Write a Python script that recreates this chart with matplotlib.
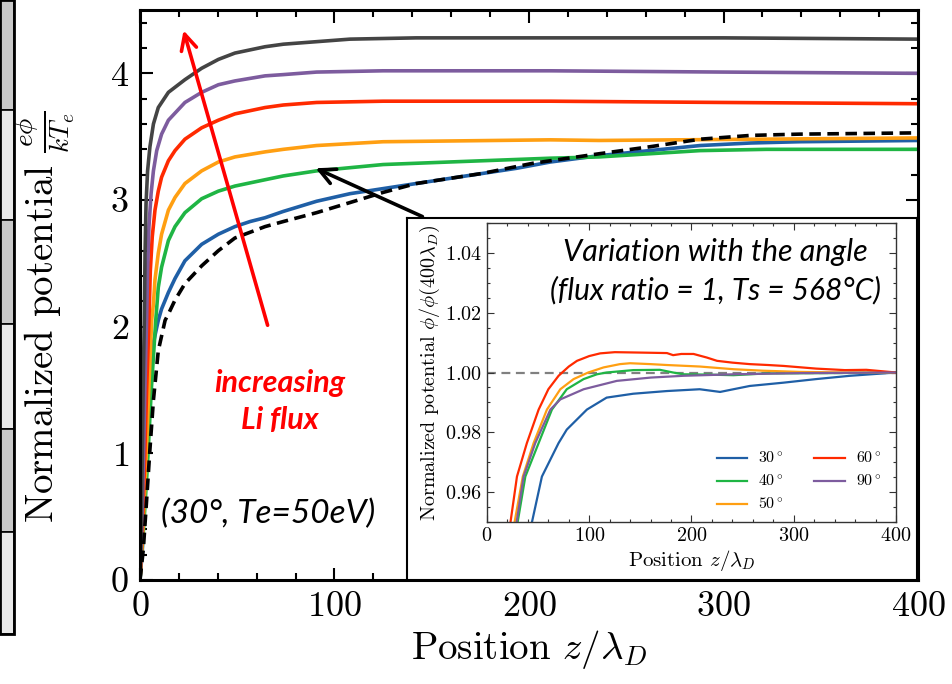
import numpy as np
import matplotlib
matplotlib.use("Agg")
import matplotlib.pyplot as plt
from matplotlib.patches import Rectangle
from matplotlib.ticker import MultipleLocator

plt.rcParams["font.family"] = "serif"
plt.rcParams["font.serif"] = ["cmr10", "DejaVu Serif"]
plt.rcParams["mathtext.fontset"] = "cm"
plt.rcParams["axes.formatter.use_mathtext"] = True
plt.rcParams["axes.unicode_minus"] = False

# main panel: potential vs position, one curve per Li flux
x_dash = [0, 1.7, 3.4, 5.1, 6.9, 9.4, 12.9, 14.6, 18, 23.1, 31.7, 40.3, 48.8, 64.3, 73.7, 90.8,
          108, 125, 142, 176, 202, 236, 262, 288, 314, 339, 400]
y_dash = [0, 0.24, 0.63, 1.03, 1.42, 1.81, 2.05, 2.10, 2.21, 2.34, 2.48, 2.60, 2.70, 2.79, 2.83, 2.90,
          2.98, 3.06, 3.13, 3.21, 3.29, 3.365, 3.42, 3.48, 3.51, 3.52, 3.53]

x_blue = [0, 1.2, 2.2, 3.1, 4.3, 6, 9.4, 11.1, 14.6, 18, 23.1, 31.7, 40.3, 48.8, 56.6, 64.3, 73.7,
          90.8, 108, 125, 159, 193.5, 211, 236, 262, 288, 314, 339, 400]
y_blue = [0, 0.24, 0.63, 1.03, 1.42, 1.81, 2.05, 2.14, 2.27, 2.38, 2.52, 2.65, 2.73, 2.79, 2.83, 2.86, 2.91,
          2.99, 3.05, 3.09, 3.17, 3.25, 3.30, 3.35, 3.39, 3.43, 3.45, 3.46, 3.47]

x_green = [0, 1.8, 3.8, 5.8, 8.1, 9.4, 11.1, 14.6, 18, 23.1, 31.7, 40.3, 48.8, 64.3, 73.7, 90.8,
           125, 159, 211, 236, 288, 322, 400]
y_green = [0, 0.4, 0.9, 1.5, 2.05, 2.31, 2.47, 2.68, 2.79, 2.90, 3.01, 3.07, 3.11, 3.16, 3.19, 3.23,
           3.28, 3.30, 3.33, 3.34, 3.39, 3.40, 3.40]

x_orange = [0, 1.5, 3.0, 4.5, 6.0, 6.9, 7.7, 9.4, 11.1, 14.6, 18, 23.1, 31.7, 40.3, 48.8, 64.3,
            73.7, 90.8, 125, 211, 236, 400]
y_orange = [0, 0.4, 0.9, 1.5, 2.05, 2.18, 2.37, 2.58, 2.73, 2.92, 3.02, 3.13, 3.23, 3.30, 3.34, 3.38,
            3.40, 3.43, 3.46, 3.475, 3.47, 3.49]

x_red = [0, 1.2, 2.3, 3.4, 4.6, 5.3, 6.3, 7.7, 9.4, 11.1, 14.6, 18, 23.1, 31.7, 40.3, 48.8, 64.3,
         73.7, 90.8, 125, 211, 300, 400]
y_red = [0, 0.4, 0.9, 1.5, 2.05, 2.44, 2.71, 2.92, 3.07, 3.18, 3.31, 3.39, 3.48, 3.57, 3.63, 3.68, 3.73,
         3.75, 3.77, 3.78, 3.78, 3.77, 3.76]

x_purple = [0, 0.9, 1.7, 2.5, 3.4, 3.9, 4.6, 5.7, 6.9, 8.6, 11.1, 14.6, 23.1, 31.7, 40.3, 48.8,
            64.3, 73.7, 90.8, 125, 211, 300, 400]
y_purple = [0, 0.4, 0.9, 1.5, 2.05, 2.44, 2.79, 3.05, 3.23, 3.39, 3.52, 3.63, 3.77, 3.85, 3.91, 3.94,
            3.98, 3.99, 4.01, 4.02, 4.02, 4.01, 4.00]

x_gray = [0, 0.6, 1.1, 1.6, 2.2, 2.6, 3.1, 3.9, 5.1, 6.9, 9.4, 14.6, 23.1, 31.7, 40.3, 48.8, 64.3,
          73.7, 90.8, 108, 142, 211, 300, 400]
y_gray = [0, 0.4, 0.9, 1.5, 2.05, 2.58, 2.97, 3.23, 3.42, 3.60, 3.73, 3.85, 3.95, 4.04, 4.11, 4.16, 4.21,
          4.23, 4.25, 4.27, 4.28, 4.28, 4.28, 4.27]

# inset: potential normalised to its value at 400 lambda_D, per angle
angle_labels = ["30$^\\circ$", "40$^\\circ$", "50$^\\circ$", "60$^\\circ$", "90$^\\circ$"]
ix_30 = [44, 53.7, 70, 78, 97.7, 117, 143, 176, 208, 228, 241, 257, 290, 322, 355, 400]
iy_30 = [0.95, 0.9652, 0.9764, 0.9809, 0.9876, 0.9916, 0.9929, 0.9938, 0.9944, 0.9935, 0.9944,
         0.9955, 0.9966, 0.9978, 0.9989, 1.0]
ix_40 = [30, 37.5, 50.5, 63.5, 78, 94.5, 107.5, 117, 143, 169, 182, 192, 215, 241, 274, 339, 400]
iy_40 = [0.95, 0.9652, 0.9764, 0.9876, 0.9944, 0.9978, 0.9994, 1.0, 1.0008, 1.0009, 1.0, 0.9994,
         0.9993, 0.9991, 0.9997, 0.9998, 1.0]
ix_50 = [27, 35, 45.6, 58.6, 71.7, 84.7, 99, 114, 130, 140, 160, 176, 208, 241, 270, 306, 350, 400]
iy_50 = [0.95, 0.9652, 0.9764, 0.9876, 0.9944, 0.9978, 1.0, 1.0017, 1.0028, 1.0031, 1.0028, 1.0025,
         1.002, 1.0011, 1.0006, 1.0002, 1.0, 1.0]
ix_60 = [23, 29.3, 39, 50.5, 60, 70, 80, 88, 100, 110.7, 125, 143, 160, 176, 182, 190, 202, 215,
         225, 240, 257, 275, 290, 322, 350, 371, 400]
iy_60 = [0.95, 0.9652, 0.9764, 0.9876, 0.9944, 0.9989, 1.002, 1.0039, 1.0055, 1.0064, 1.0068, 1.0067,
         1.0066, 1.0065, 1.0058, 1.0062, 1.0062, 1.005, 1.0039, 1.0033, 1.0028, 1.0025, 1.0022, 1.0013,
         1.0008, 1.0009, 1.0]
ix_90 = [29, 35.8, 47.2, 62, 71.7, 94.5, 127, 160, 192, 241, 306, 400]
iy_90 = [0.95, 0.9652, 0.9764, 0.9876, 0.991, 0.9944, 0.9972, 0.9983, 0.9989, 0.9994, 0.9998, 1.0]

c_blue = "#1f5fa6"
c_green = "#1fb544"
c_orange = "#ff9f12"
c_red = "#ff2a00"
c_purple = "#7d5c9e"
c_gray = "#444444"

fig = plt.figure(figsize=(9.53, 6.84), dpi=100)
W, H = 953.0, 684.0

# grey table strip cut off at the left edge of the screenshot
edges = [0, 110, 220, 324, 429, 532, 634]
for k in range(len(edges) - 1):
    col = "#c8c8c8" if k % 2 == 0 else "#e8e8e8"
    fig.patches.append(Rectangle((0, 1 - edges[k + 1] / H), 14 / W, (edges[k + 1] - edges[k]) / H,
                                 transform=fig.transFigure, facecolor=col, edgecolor="black", lw=1.2))
fig.patches.append(Rectangle((0, 1 - 634 / H), 14 / W, 634 / H, transform=fig.transFigure,
                             facecolor="none", edgecolor="black", lw=2))

ax = fig.add_axes([140 / W, 1 - 580 / H, 778 / W, 570 / H])
lw = 2.6
ax.plot(x_dash, y_dash, color="black", lw=lw, ls=(0, (3.2, 1.8)), zorder=3)
ax.plot(x_blue, y_blue, color=c_blue, lw=lw)
ax.plot(x_green, y_green, color=c_green, lw=lw)
ax.plot(x_orange, y_orange, color=c_orange, lw=lw)
ax.plot(x_red, y_red, color=c_red, lw=lw)
ax.plot(x_purple, y_purple, color=c_purple, lw=lw)
ax.plot(x_gray, y_gray, color=c_gray, lw=lw)

ax.set_xlim(0, 400)
ax.set_ylim(0, 4.5)
ax.xaxis.set_major_locator(MultipleLocator(100))
ax.xaxis.set_minor_locator(MultipleLocator(20))
ax.yaxis.set_major_locator(MultipleLocator(1))
ax.yaxis.set_minor_locator(MultipleLocator(0.2))
ax.tick_params(which="both", direction="in", top=True, right=True, labelsize=26, width=1.5)
ax.tick_params(which="major", length=9, pad=8)
ax.tick_params(which="minor", length=5)
for s in ax.spines.values():
    s.set_linewidth(2.2)
ax.set_xlabel("Position $z/\\lambda_D$", fontsize=28, labelpad=4)
ax.set_ylabel("Normalized potential $\\frac{e\\phi}{kT_e}$", fontsize=28)
ax.yaxis.set_label_coords(-0.081, 0.463)

ax.annotate("", xy=(22, 4.36), xytext=(66, 1.99),
            arrowprops=dict(arrowstyle="->", color="#ff0000", lw=2.6, mutation_scale=28))
ax.annotate("", xy=(89, 3.26), xytext=(146.5, 2.86),
            arrowprops=dict(arrowstyle="->", color="black", lw=2.6, mutation_scale=28))
ax.text(72, 1.41, "increasing\nLi flux", color="#ff0000", fontsize=22, fontweight="bold",
        fontstyle="italic", family="Lato", ha="center", va="center", linespacing=1.4)
ax.text(66, 0.52, "(30°, Te=50eV)", color="black", fontsize=24, fontstyle="italic",
        family="Lato", ha="center", va="center")

# white box holding the inset figure
box = fig.add_axes([407 / W, 1 - 580 / H, 510 / W, 362 / H])
box.set_xticks([])
box.set_yticks([])
for s in box.spines.values():
    s.set_linewidth(1.5)

ins = fig.add_axes([487 / W, 1 - 522 / H, 409 / W, 299 / H])
ins.plot(ix_30, iy_30, color=c_blue, lw=1.6, label=angle_labels[0])
ins.plot(ix_40, iy_40, color=c_green, lw=1.6, label=angle_labels[1])
ins.plot(ix_50, iy_50, color=c_orange, lw=1.6, label=angle_labels[2])
ins.plot(ix_60, iy_60, color=c_red, lw=1.6, label=angle_labels[3])
ins.plot(ix_90, iy_90, color=c_purple, lw=1.6, label=angle_labels[4])
ins.axhline(1.0, color="#808080", lw=1.6, ls=(0, (4, 2.5)), zorder=0)
ins.set_xlim(0, 400)
ins.set_ylim(0.95, 1.05)
ins.xaxis.set_major_locator(MultipleLocator(100))
ins.xaxis.set_minor_locator(MultipleLocator(20))
ins.yaxis.set_major_locator(MultipleLocator(0.02))
ins.yaxis.set_minor_locator(MultipleLocator(0.005))
ins.tick_params(which="both", direction="in", top=True, right=True, labelsize=14.5, width=0.8,
                color="#333333")
ins.tick_params(which="major", length=5)
ins.tick_params(which="minor", length=2.5)
for s in ins.spines.values():
    s.set_linewidth(1.0)
    s.set_color("#333333")
ins.set_xlabel("Position $z/\\lambda_D$", fontsize=15, labelpad=2)
ins.set_ylabel("Normalized potential $\\phi/\\phi(400\\lambda_D)$", fontsize=14.5, labelpad=2)
ins.text(223, 1.0402, "Variation with the angle", fontsize=22, fontstyle="italic",
         family="Lato", ha="center", va="center")
ins.text(223, 1.0274, "(flux ratio = 1, Ts = 568°C)", fontsize=21.5, fontstyle="italic",
         family="Lato", ha="center", va="center")
ins.legend(ncol=2, loc="lower right", bbox_to_anchor=(1.0, -0.015), frameon=False, fontsize=11.5,
           handlelength=1.9, columnspacing=1.9, labelspacing=0.45, handletextpad=0.7)

fig.savefig("out.png", dpi=100)
